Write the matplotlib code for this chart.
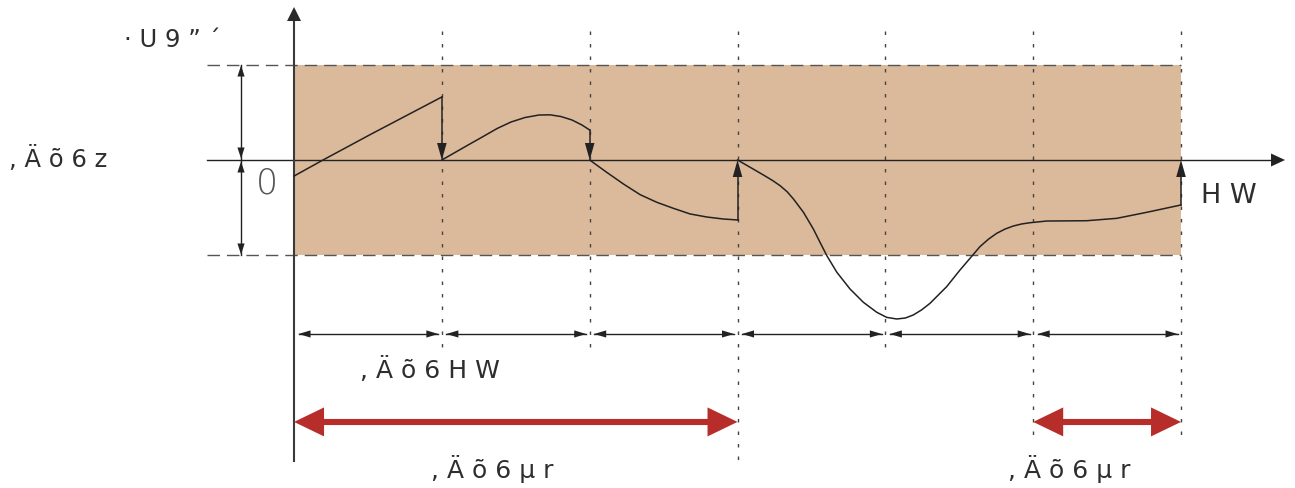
import matplotlib
matplotlib.use("Agg")
import matplotlib.pyplot as plt

# ---------------- data ----------------
# control intervals (x in interval units, y in band units: band = +/-1)
interval_edges = [0, 1, 2, 3, 4, 5, 6]
band_limits = [-1.0, 1.0]

seg1_t = [0.0, 0.196, 0.514, 1.0]
seg1_y = [-0.168, 0.0, 0.265, 0.66]
seg2_t = [1.0, 1.095, 1.190, 1.285, 1.374, 1.468, 1.563, 1.657, 1.732, 1.806, 1.880, 1.948, 2.0]
seg2_y = [0.0, 0.084, 0.168, 0.251, 0.330, 0.398, 0.445, 0.471, 0.473, 0.455, 0.419, 0.366, 0.314]
seg3_t = [2.0, 2.115, 2.228, 2.341, 2.454, 2.566, 2.679, 2.792, 2.904, 3.0]
seg3_y = [0.0, -0.129, -0.251, -0.363, -0.443, -0.506, -0.565, -0.597, -0.618, -0.628]
seg4_t = [3.0, 3.086, 3.175, 3.237, 3.288, 3.336, 3.378, 3.446, 3.513, 3.558, 3.604, 3.672,
          3.761, 3.851, 3.942, 4.009, 4.077, 4.135, 4.189, 4.245, 4.302, 4.415, 4.505, 4.573,
          4.640, 4.697, 4.753, 4.810, 4.866, 4.922, 4.978, 5.092, 5.362, 5.565, 5.768, 6.0]
seg4_y = [0.0, -0.077, -0.157, -0.215, -0.269, -0.333, -0.408, -0.548, -0.723, -0.862,
          -1.002, -1.176, -1.351, -1.490, -1.595, -1.648, -1.665, -1.655, -1.623, -1.570,
          -1.501, -1.326, -1.152, -1.029, -0.907, -0.830, -0.768, -0.723, -0.691, -0.670,
          -0.657, -0.639, -0.636, -0.611, -0.548, -0.471]
segments = [(seg1_t, seg1_y), (seg2_t, seg2_y), (seg3_t, seg3_y), (seg4_t, seg4_y)]

red_spans = [(0, 3), (5, 6)]

label_axis_y = "· U 9 ” ´"
label_band = ", Ä õ 6 z"
label_zero = "0"
label_axis_x = "H W"
label_interval = ", Ä õ 6 H W"
label_span = ", Ä õ 6 µ r"

# ---------------- layout ----------------
W, H = 1295, 489
XL = (-1.989, 6.771)
YL = (-3.435, 1.686)
sx = W / (XL[1] - XL[0])
sy = H / (YL[1] - YL[0])

def px(v):
    return v / sx

def py(v):
    return v / sy

fig = plt.figure(figsize=(W / 100, H / 100), dpi=100)
ax = fig.add_axes([0, 0, 1, 1])
ax.set_xlim(*XL)
ax.set_ylim(*YL)
ax.axis("off")

BAND = "#DBB99B"
INK = "#222222"
RED = "#B72D2A"
TXT = "#2e2e2e"


def head(x, y, direction, L, hw, color=INK, z=6):
    if direction == "right":
        xs = [x, x - px(L), x - px(L)]
        ys = [y, y + py(hw), y - py(hw)]
    elif direction == "left":
        xs = [x, x + px(L), x + px(L)]
        ys = [y, y + py(hw), y - py(hw)]
    elif direction == "up":
        xs = [x, x - px(hw), x + px(hw)]
        ys = [y, y - py(L), y - py(L)]
    else:
        xs = [x, x - px(hw), x + px(hw)]
        ys = [y, y + py(L), y + py(L)]
    ax.fill(xs, ys, color=color, lw=0, zorder=z)


x0, x6 = interval_edges[0], interval_edges[-1]
lo, hi = band_limits

# band
ax.fill_between([x0, x6], [lo, lo], [hi, hi], color=BAND, lw=0, zorder=1)

# dashed band limits
left_ext = x0 - px(87)
for yv in band_limits:
    ax.plot([left_ext, x6], [yv, yv], color="#555555", lw=1.0, dashes=(9, 5), zorder=2)

# dotted interval lines
top_dot = 1.351
bottoms = [-2.01, -2.01, -3.16, -2.03, -2.90, -2.90]
for xe, b in zip(interval_edges[1:], bottoms):
    ax.plot([xe, xe], [top_dot, b], color="#444444", lw=1.0, dashes=(2.5, 6.5), zorder=2)

# x axis
x_tip = x6 + px(104)
ax.plot([left_ext, x_tip - px(10)], [0, 0], color=INK, lw=1.0, zorder=3)
head(x_tip, 0, "right", 14, 6.5)

# y axis
y_tip = 1.602
ax.plot([x0, x0], [-3.152, y_tip - py(10)], color="#3a3a3a", lw=1.5, zorder=4)
head(x0, y_tip, "up", 14, 7.0, color="#2a2a2a")

# curve
for t, y in segments:
    ax.plot(t, y, color=INK, lw=1.1, zorder=5, solid_joinstyle="round")

# reset arrows at interval ends
for t, y in segments:
    xe, ye = t[-1], y[-1]
    d = "down" if ye > 0 else "up"
    sgn = 1 if ye > 0 else -1
    ax.plot([xe, xe], [ye, sgn * py(12)], color=INK, lw=1.1, zorder=5)
    head(xe, 0, d, 17, 4.8)

# left dimension arrows
xd = x0 - px(53)
for a, b in [(0, hi), (0, lo)]:
    ax.plot([xd, xd], [a, b], color=INK, lw=1.0, zorder=5)
    s = 1 if b > a else -1
    head(xd, b - s * py(1), "up" if s > 0 else "down", 11, 3.6)
    head(xd, a + s * py(1.5), "down" if s > 0 else "up", 11, 3.6)

# interval dimension arrows
yr = -1.822
for a, b in zip(interval_edges[:-1], interval_edges[1:]):
    l, r = a + px(4.5), b - px(3.5)
    ax.plot([l, r], [yr, yr], color=INK, lw=1.0, zorder=5)
    head(l, yr, "left", 12, 3.6)
    head(r, yr, "right", 12, 3.6)

# red span arrows
yred = -2.743
for a, b in red_spans:
    ax.plot([a + px(25), b - px(25)], [yred, yred], color=RED, lw=4.4,
            solid_capstyle="butt", zorder=6)
    head(a, yred, "left", 30, 14.5, color=RED)
    head(b, yred, "right", 30, 14.5, color=RED)

# texts (positions in px converted)
def T(xpx, ypx, s, size, color=TXT, **kw):
    ax.text(XL[0] + xpx / sx, YL[1] - ypx / sy, s, fontsize=size, color=color,
            ha="left", va="baseline", family=["DejaVu Sans"], zorder=8, **kw)

T(124, 47, label_axis_y, 17.5)
T(9, 167, label_band, 17.5)
T(1201, 203, label_axis_x, 19.5)
T(360, 378, label_interval, 18)
T(431, 478, label_span, 18)
T(1008, 478, label_span, 18)
T(256, 193, label_zero, 25, color="#555555", fontweight=200)

fig.savefig("out.png", dpi=100)
